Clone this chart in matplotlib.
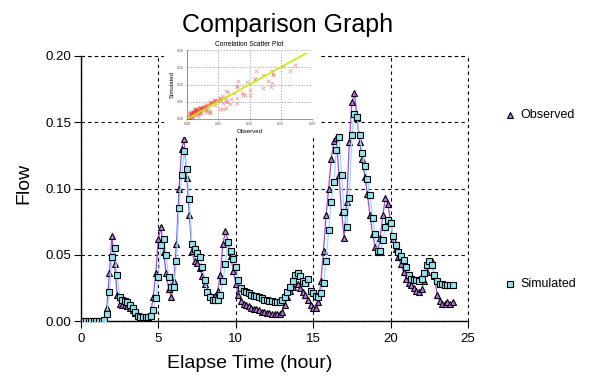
import numpy as np
import matplotlib
matplotlib.use("Agg")
import matplotlib.pyplot as plt

plt.rcParams['font.family'] = ['Liberation Sans', 'DejaVu Sans']

# ---- data (10-minute samples, 0..24 h) ----
time_step_h = 1.0 / 6.0
observed = [
    0, 0, 0, 0, 0, 0,
    0, 0, 0, 0.001, 0.010, 0.036,
    0.064, 0.043, 0.020, 0.013, 0.012, 0.012,
    0.011, 0.010, 0.008, 0.006, 0.004, 0.003,
    0.003, 0.003, 0.003, 0.006, 0.018, 0.036,
    0.062, 0.071, 0.052, 0.036, 0.024, 0.018,
    0.030, 0.058, 0.100, 0.130, 0.137, 0.108,
    0.080, 0.053, 0.045, 0.044, 0.040, 0.034,
    0.028, 0.023, 0.020, 0.018, 0.019, 0.023,
    0.035, 0.058, 0.068, 0.060, 0.049, 0.038,
    0.028, 0.020, 0.015, 0.013, 0.012, 0.011,
    0.010, 0.009, 0.009, 0.008, 0.007, 0.007,
    0.006, 0.006, 0.005, 0.005, 0.005, 0.005,
    0.007, 0.012, 0.018, 0.023, 0.026, 0.029,
    0.028, 0.025, 0.022, 0.020, 0.016, 0.012,
    0.010, 0.010, 0.014, 0.030, 0.053, 0.080,
    0.100, 0.122, 0.136, 0.138, 0.110, 0.082,
    0.063, 0.090, 0.135, 0.165, 0.172, 0.153,
    0.135, 0.122, 0.109, 0.096, 0.080, 0.066,
    0.056, 0.052, 0.063, 0.080, 0.093, 0.088,
    0.075, 0.062, 0.054, 0.048, 0.043, 0.037,
    0.032, 0.029, 0.027, 0.025, 0.023, 0.022,
    0.024, 0.030, 0.037, 0.042, 0.045, 0.034,
    0.020, 0.015, 0.013, 0.013, 0.014, 0.013,
    0.014,
]
simulated = [
    0, 0, 0, 0, 0, 0,
    0, 0, 0, 0.001, 0.005, 0.022,
    0.048, 0.055, 0.035, 0.018, 0.016, 0.015,
    0.014, 0.012, 0.010, 0.007, 0.004, 0.003,
    0.003, 0.003, 0.003, 0.004, 0.008, 0.017,
    0.033, 0.057, 0.062, 0.050, 0.033, 0.026,
    0.026, 0.045, 0.085, 0.110, 0.128, 0.115,
    0.092, 0.058, 0.054, 0.051, 0.048, 0.041,
    0.031, 0.022, 0.018, 0.016, 0.016, 0.016,
    0.020, 0.030, 0.043, 0.060, 0.053, 0.047,
    0.041, 0.031, 0.025, 0.023, 0.022, 0.021,
    0.020, 0.019, 0.019, 0.018, 0.017, 0.016,
    0.016, 0.015, 0.015, 0.014, 0.014, 0.014,
    0.016, 0.018, 0.022, 0.026, 0.030, 0.035,
    0.036, 0.034, 0.030, 0.029, 0.032, 0.023,
    0.021, 0.019, 0.018, 0.021, 0.029, 0.045,
    0.069, 0.090, 0.105, 0.129, 0.139, 0.110,
    0.082, 0.071, 0.093, 0.140, 0.156, 0.154,
    0.140, 0.127, 0.117, 0.107, 0.095, 0.078,
    0.066, 0.053, 0.053, 0.061, 0.071, 0.076,
    0.074, 0.064, 0.057, 0.052, 0.049, 0.046,
    0.041, 0.035, 0.032, 0.031, 0.031, 0.030,
    0.032, 0.036, 0.042, 0.045, 0.042, 0.035,
    0.030, 0.028, 0.028, 0.027, 0.027, 0.027,
    0.027,
]
x_ticks = [0, 5, 10, 15, 20, 25]
y_ticks = [0.00, 0.05, 0.10, 0.15, 0.20]
inset_ticks = [0.00, 0.05, 0.10, 0.15, 0.20]
diag_end = 0.19

time_h = np.arange(len(observed)) * time_step_h

W, H = 615, 392
fig = plt.figure(figsize=(W / 100, H / 100), dpi=100)

def fbox(x0, y0, x1, y1):
    return [x0 / W, 1 - y1 / H, (x1 - x0) / W, (y1 - y0) / H]

ax = fig.add_axes(fbox(81, 56, 468, 321))
obs_line = '#A845E6'
ax.plot(time_h, observed, '-', color=obs_line, lw=0.9, zorder=3)
ax.plot(time_h, observed, '^', ms=4.8, mfc='#B872E6', mec='black', mew=0.8,
        ls='none', zorder=4)
ax.plot(time_h, simulated, '-', color='#8FE3F2', lw=0.9, zorder=5)
ax.plot(time_h, simulated, 's', ms=4.8, mfc='#8FE3F2', mec='black', mew=0.8,
        ls='none', zorder=6)

ax.set_xlim(0, 25)
ax.set_ylim(0, 0.2)
ax.set_xticks(x_ticks)
ax.set_yticks(y_ticks)
ax.set_yticklabels([f'{v:.2f}' for v in y_ticks])
ax.tick_params(axis='both', direction='out', length=5, width=0.8,
               labelsize=9.5, color='black', pad=2)
ax.tick_params(axis='x', pad=4)
for s in ('top', 'right'):
    ax.spines[s].set_visible(False)
for s in ('left', 'bottom'):
    ax.spines[s].set_linewidth(1.0)
ax.grid(True, color='black', lw=0.8, ls=(0, (3, 3)))
ax.set_axisbelow(True)
ax.axhline(0.2, color='black', lw=0.8, ls=(0, (3, 3)), clip_on=False)
ax.axvline(25, color='black', lw=0.8, ls=(0, (3, 3)), clip_on=False)

fig.text(288 / W, 1 - 25 / H, 'Comparison Graph', fontsize=18,
         ha='center', va='center')
fig.text(250 / W, 1 - 364 / H, 'Elapse Time (hour)', fontsize=14,
         ha='center', va='center')
fig.text(24 / W, 1 - 183 / H, 'Flow', fontsize=14, rotation=90,
         ha='center', va='center')

# legend (manual, outside plot)
fig.lines.append(plt.Line2D([510 / W], [1 - 115 / H], marker='^', ms=3.8,
                            mfc='#B872E6', mec='black', mew=0.8, ls='none',
                            transform=fig.transFigure))
fig.text(520 / W, 1 - 115 / H, 'Observed', fontsize=9, ha='left', va='center')
fig.lines.append(plt.Line2D([510 / W], [1 - 284 / H], marker='s', ms=3.8,
                            mfc='#8FE3F2', mec='black', mew=0.8, ls='none',
                            transform=fig.transFigure))
fig.text(520 / W, 1 - 284 / H, 'Simulated', fontsize=9, ha='left', va='center')

# white backdrop for inset
bg = fig.add_axes(fbox(164, 36, 321, 137))
bg.set_facecolor('white')
bg.set_xticks([]); bg.set_yticks([])
for s in bg.spines.values():
    s.set_visible(False)

ins = fig.add_axes(fbox(187, 50, 312, 119))
ins.set_facecolor('white')
ins.scatter(observed, simulated, marker='x', s=7, lw=0.5, color='#F04040',
            alpha=0.55, zorder=3)
ins.plot([0, diag_end], [0, diag_end], color='#C8F000', lw=1.2, zorder=4)
ins.set_xlim(0, 0.2)
ins.set_ylim(0, 0.2)
ins.set_xticks(inset_ticks)
ins.set_yticks(inset_ticks)
ins.set_xticklabels([f'{v:.2f}' for v in inset_ticks])
ins.set_yticklabels([f'{v:.2f}' for v in inset_ticks])
ins.tick_params(labelsize=2.5, length=1, width=0.4, pad=1, colors='#555555')
ins.grid(True, color='#999999', lw=0.5, ls=(0, (2, 2)))
ins.set_axisbelow(True)
for s in ('top', 'right'):
    ins.spines[s].set_visible(False)
for s in ('left', 'bottom'):
    ins.spines[s].set_color('#888888')
    ins.spines[s].set_linewidth(0.6)
ins.set_title('Correlation Scatter Plot', fontsize=4.8, pad=3)
ins.set_xlabel('Observed', fontsize=4.3, labelpad=2)
ins.set_ylabel('Simulated', fontsize=4.3, labelpad=2)

fig.savefig('out.png', dpi=100)
